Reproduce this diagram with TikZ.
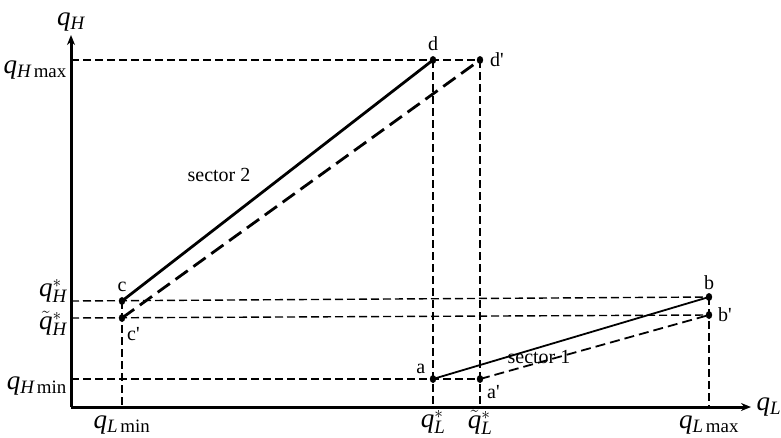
\documentclass[tikz,border=0pt]{standalone}
\usepackage{fontspec}
\setmainfont{Liberation Serif}
\usetikzlibrary{arrows.meta}
\newcommand{\qv}{\mathit{q}}
\newcommand{\Hs}{\mathit{H}}
\newcommand{\Ls}{\mathit{L}}
\begin{document}
\begin{tikzpicture}[x=1pt, y=-1pt, line join=round, >={Stealth[length=10pt,width=8pt]},
    font=\fontsize{20}{23}\selectfont,
    axis/.style={line width=3pt},
    guide/.style={line width=1.4pt, dash pattern=on 8pt off 4pt},
    seg/.style={line width=2.8pt},
    segdash/.style={line width=2.8pt, dash pattern=on 15pt off 7pt},
    segthin/.style={line width=1.8pt},
    segthindash/.style={line width=1.8pt, dash pattern=on 10pt off 5pt},
    mlabel/.style={font=\fontsize{27}{29}\selectfont, inner sep=0pt}]
    \useasboundingbox (0,0) rectangle (781,437);
    \path
    (71,407) coordinate (O)
    (71,35) coordinate (Ytip)
    (751,407) coordinate (Xtip)
    (122,301) coordinate (c)
    (122,318) coordinate (c')
    (433,60) coordinate (d)
    (480,60) coordinate (d')
    (433,379) coordinate (a)
    (480,379) coordinate (a')
    (709,297) coordinate (b)
    (709,315) coordinate (b');
    % guide lines
    \draw[guide] (O |- d') -- (d');
    \draw[guide] (O |- c) -- (b);
    \draw[guide] (O |- c') -- (b');
    \draw[guide] (O |- a') -- (a');
    \draw[guide] (c) -- (c |- O);
    \draw[guide] (d) -- (d |- O);
    \draw[guide] (d') -- (d' |- O);
    \draw[guide] (b) -- (b |- O);
    % axes
    \draw[axis, ->] (O) -- (Ytip) node[mlabel, above=2pt] {$\qv_\Hs$};
    \draw[axis, ->] (O) -- (Xtip) node[mlabel, right=4pt] {$\qv_\Ls$};
    % sectors
    \draw[seg] (c) -- (d);
    \draw[segdash] (c') -- (d');
    \draw[segthin] (a) -- (b);
    \draw[segthindash] (a') -- (b');
    \node at (219,175) {sector 2};
    \node at (539,357) {sector 1};
    % points
    \foreach \p/\lbl/\ang/\dist in {
        c/{c}/-90/14,
        c'/{c\textquotesingle}/55/20,
        d/{d}/-90/16,
        d'/{d\textquotesingle}/0/17,
        a/{a}/220/16,
        a'/{a\textquotesingle}/45/19,
        b/{b}/-90/14,
        b'/{b\textquotesingle}/0/16
    } {
        \fill (\p) ellipse (3.2pt and 4pt);
        \path (\p) ++(\ang:\dist) node {\lbl};
    }
    % axis labels
    \node[mlabel, anchor=east] at (67,70) {$\qv_{\Hs\,\mathrm{max}}$};
    \node[mlabel, anchor=east] at (67,291) {$\qv_\Hs^*$};
    \node[mlabel, anchor=east] at (67,323) {$\tilde\qv_\Hs^*$};
    \node[mlabel, anchor=east] at (67,386) {$\qv_{\Hs\,\mathrm{min}}$};
    \node[mlabel, anchor=north] at (c |- 0,416) {$\qv_{\Ls\,\mathrm{min}}$};
    \node[mlabel, anchor=north] at (d |- 0,410) {$\qv_\Ls^*$};
    \node[mlabel, anchor=north] at (d' |- 0,410) {$\tilde\qv_\Ls^*$};
    \node[mlabel, anchor=north] at (b |- 0,416) {$\qv_{\Ls\,\mathrm{max}}$};
\end{tikzpicture}
\end{document}
